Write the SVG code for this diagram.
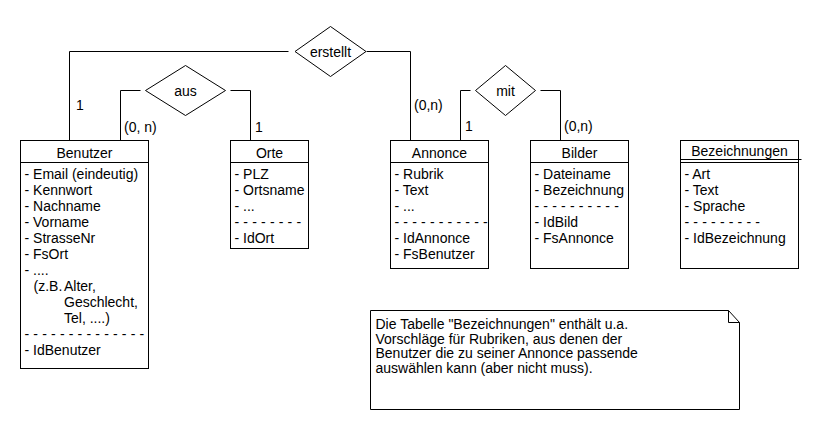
<svg xmlns="http://www.w3.org/2000/svg" width="840" height="430" viewBox="0 0 840 430">
<style>
  text { font-family: "Liberation Sans", Arial, sans-serif; font-size: 14px; fill: #000; }
  .t { text-anchor: middle; }
  .box, .dia, .note { fill: #fff; stroke: #000; stroke-width: 1; }
  .ln { fill: none; stroke: #000; stroke-width: 1; }
  .dash { letter-spacing: 0.15px; }
</style>
<rect width="840" height="430" fill="#fff"/>
<g id="connectors">
  <polyline class="ln" points="69.5,140.5 69.5,51.5 288.5,51.5"/>
  <polyline class="ln" points="366.5,51.5 410.5,51.5 410.5,140.5"/>
  <polyline class="ln" points="120.5,140.5 120.5,90.5 140.5,90.5"/>
  <polyline class="ln" points="230.5,90.5 250.5,90.5 250.5,140.5"/>
  <polyline class="ln" points="460.5,140.5 460.5,90.5 470.5,90.5"/>
  <polyline class="ln" points="540.5,90.5 560.5,90.5 560.5,140.5"/>
  <text x="76" y="110">1</text>
  <text x="414" y="110">(0,n)</text>
  <text x="124" y="132">(0, n)</text>
  <text x="255" y="132">1</text>
  <text x="465" y="131">1</text>
  <text x="564" y="131">(0,n)</text>
</g>
<g id="erstellt">
  <polygon class="dia" points="295,51.5 330.5,26.5 366,51.5 330.5,76.5"/>
  <text class="t" x="330.5" y="56.5">erstellt</text>
</g>
<g id="aus">
  <polygon class="dia" points="145.5,90.5 185.5,65.5 225.5,90.5 185.5,115.5"/>
  <text class="t" x="185.5" y="95.5">aus</text>
</g>
<g id="mit">
  <polygon class="dia" points="475.5,90.5 505.5,65.5 535.5,90.5 505.5,115.5"/>
  <text class="t" x="505.5" y="95.5">mit</text>
</g>
<g id="benutzer">
  <rect class="box" x="20.5" y="140.5" width="128" height="228"/>
  <line class="ln" x1="20.5" y1="162.5" x2="148.5" y2="162.5"/>
  <text class="t" x="84.5" y="158">Benutzer</text>
  <text x="24.5" y="179">- Email (eindeutig)</text>
  <text x="24.5" y="195">- Kennwort</text>
  <text x="24.5" y="211">- Nachname</text>
  <text x="24.5" y="227">- Vorname</text>
  <text x="24.5" y="243">- StrasseNr</text>
  <text x="24.5" y="259">- FsOrt</text>
  <text x="24.5" y="275">- ....</text>
  <text x="33.5" y="291">(z.B.</text>
  <text x="64" y="291">Alter,</text>
  <text x="64" y="307">Geschlecht,</text>
  <text x="64" y="323">Tel, ....)</text>
  <text class="dash" x="24.5" y="339">- - - - - - - - - - - - - -</text>
  <text x="24.5" y="355">- IdBenutzer</text>
</g>
<g id="orte">
  <rect class="box" x="230.5" y="140.5" width="78" height="108"/>
  <line class="ln" x1="230.5" y1="162.5" x2="308.5" y2="162.5"/>
  <text class="t" x="269.5" y="158">Orte</text>
  <text x="234.5" y="179">- PLZ</text>
  <text x="234.5" y="195">- Ortsname</text>
  <text x="234.5" y="211">- ...</text>
  <text class="dash" x="234.5" y="227">- - - - - - - -</text>
  <text x="234.5" y="243">- IdOrt</text>
</g>
<g id="annonce">
  <rect class="box" x="390.5" y="140.5" width="98" height="128"/>
  <line class="ln" x1="390.5" y1="162.5" x2="488.5" y2="162.5"/>
  <text class="t" x="439.5" y="158">Annonce</text>
  <text x="394.5" y="179">- Rubrik</text>
  <text x="394.5" y="195">- Text</text>
  <text x="394.5" y="211">- ...</text>
  <text class="dash" x="394.5" y="227">- - - - - - - - - - -</text>
  <text x="394.5" y="243">- IdAnnonce</text>
  <text x="394.5" y="259">- FsBenutzer</text>
</g>
<g id="bilder">
  <rect class="box" x="530.5" y="140.5" width="98" height="128"/>
  <line class="ln" x1="530.5" y1="162.5" x2="628.5" y2="162.5"/>
  <text class="t" x="579.5" y="158">Bilder</text>
  <text x="534.5" y="179">- Dateiname</text>
  <text x="534.5" y="195">- Bezeichnung</text>
  <text class="dash" x="534.5" y="211">- - - - - - - - - -</text>
  <text x="534.5" y="227">- IdBild</text>
  <text x="534.5" y="243">- FsAnnonce</text>
</g>
<g id="bezeichnungen">
  <rect class="box" x="680.5" y="140.5" width="118" height="128"/>
  <line class="ln" x1="680.5" y1="159.5" x2="801.5" y2="159.5"/>
  <line class="ln" x1="680.5" y1="162.5" x2="798.5" y2="162.5"/>
  <text class="t" x="739.5" y="156">Bezeichnungen</text>
  <text x="684.5" y="179">- Art</text>
  <text x="684.5" y="195">- Text</text>
  <text x="684.5" y="211">- Sprache</text>
  <text class="dash" x="684.5" y="227">- - - - - - - - -</text>
  <text x="684.5" y="243">- IdBezeichnung</text>
</g>
<g id="note">
  <polygon class="note" points="370.5,310.5 728.5,310.5 739.5,322.5 739.5,409.5 370.5,409.5"/>
  <polyline class="ln" points="728.5,310.5 728.5,322.5 739.5,322.5"/>
  <text x="375.5" y="329">Die Tabelle "Bezeichnungen" enthält u.a.</text>
  <text x="375.5" y="343.5">Vorschläge für Rubriken, aus denen der</text>
  <text x="375.5" y="358">Benutzer die zu seiner Annonce passende</text>
  <text x="375.5" y="372.5">auswählen kann (aber nicht muss).</text>
</g>
</svg>
